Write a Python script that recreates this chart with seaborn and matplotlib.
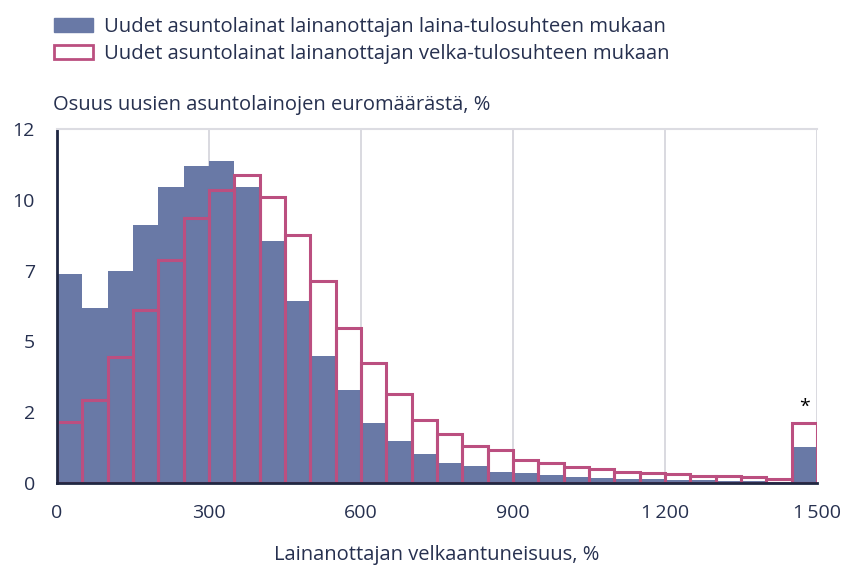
import matplotlib
matplotlib.use("Agg")
import matplotlib.pyplot as plt
from matplotlib.patches import Patch
import numpy as np
import pandas as pd
import seaborn as sns

# Bin left edges (velkaantuneisuus, %), bin width 50
bin_start = list(range(0, 1500, 50))

# Share of new mortgage euros, %
laina_tulo = [7.08, 5.93, 7.19, 8.75, 10.03, 10.74, 10.92, 10.03, 8.21, 6.17,
              4.30, 3.15, 2.04, 1.42, 0.98, 0.69, 0.56, 0.38, 0.35, 0.27,
              0.21, 0.18, 0.14, 0.12, 0.10, 0.10, 0.08, 0.07, 0.05, 1.21]
velka_tulo = [2.06, 2.81, 4.26, 5.87, 7.55, 8.97, 9.94, 10.44, 9.69, 8.40,
              6.84, 5.27, 4.06, 3.01, 2.13, 1.65, 1.26, 1.12, 0.78, 0.69,
              0.53, 0.46, 0.38, 0.35, 0.30, 0.25, 0.25, 0.21, 0.15, 2.04]

x_ticks = [0, 300, 600, 900, 1200, 1500]
x_ticklabels = ['0', '300', '600', '900', '1\u2009200', '1\u2009500']
y_ticks = [0, 2.4, 4.8, 7.2, 9.6, 12]

labels = ['Uudet asuntolainat lainanottajan laina-tulosuhteen mukaan',
          'Uudet asuntolainat lainanottajan velka-tulosuhteen mukaan']

blue = '#6979a6'
pink = '#bb4f80'
text_col = '#26304f'

df = pd.DataFrame({'mid': np.array(bin_start) + 25,
                   'laina': laina_tulo, 'velka': velka_tulo})

sns.set_style('white')
plt.rcParams['font.family'] = ['Open Sans', 'DejaVu Sans']

fig = plt.figure(figsize=(8.44, 5.67), dpi=100)
ax = fig.add_axes([57 / 844, 1 - 483 / 567, 760 / 844, 354 / 567])

sns.histplot(data=df, x='mid', weights='laina', binwidth=50, binrange=(0, 1500),
             color=blue, alpha=1, linewidth=0, ax=ax)
sns.histplot(data=df, x='mid', weights='velka', binwidth=50, binrange=(0, 1500),
             fill=False, color=pink, linewidth=2.2, ax=ax)

ax.set_xlim(0, 1500)
ax.set_ylim(0, 12)
ax.set_xticks(x_ticks)
ax.set_xticklabels(x_ticklabels)
ax.set_yticks(y_ticks)
ax.set_yticklabels([f'{v:.0f}' for v in y_ticks])
ax.tick_params(colors=text_col, labelsize=14, length=0)
ax.tick_params(axis='x', pad=15)
ax.tick_params(axis='y', pad=16)

for v in x_ticks[1:]:
    ax.axvline(v, color='#d3d3da', linewidth=1.2, zorder=0)
for s in ['left', 'bottom']:
    ax.spines[s].set_color('#1f2742')
    ax.spines[s].set_linewidth(2)
ax.spines['top'].set_color('#dcdce2')
ax.spines['top'].set_linewidth(1.5)
ax.spines['right'].set_visible(False)

ax.set_xlabel('Lainanottajan velkaantuneisuus, %', color=text_col, fontsize=14.5, labelpad=17)
ax.set_ylabel('')

ax.text(1475, velka_tulo[-1] + 0.25, '*', ha='center', va='bottom', fontsize=14, color='black')

fig.text(53 / 844, 1 - 105 / 567, 'Osuus uusien asuntolainojen euromäärästä, %',
         color=text_col, fontsize=14.5, va='center', ha='left')

handles = [Patch(facecolor=blue, edgecolor=blue),
           Patch(facecolor='white', edgecolor=pink, linewidth=2)]
fig.legend(handles, labels, loc='upper left', bbox_to_anchor=(46 / 844, 1 - 9 / 567),
           frameon=False, fontsize=14.6, labelcolor=text_col, handlelength=1.92,
           handleheight=0.7, handletextpad=0.54, labelspacing=0.36, borderaxespad=0)

fig.savefig('out.png', dpi=100)
